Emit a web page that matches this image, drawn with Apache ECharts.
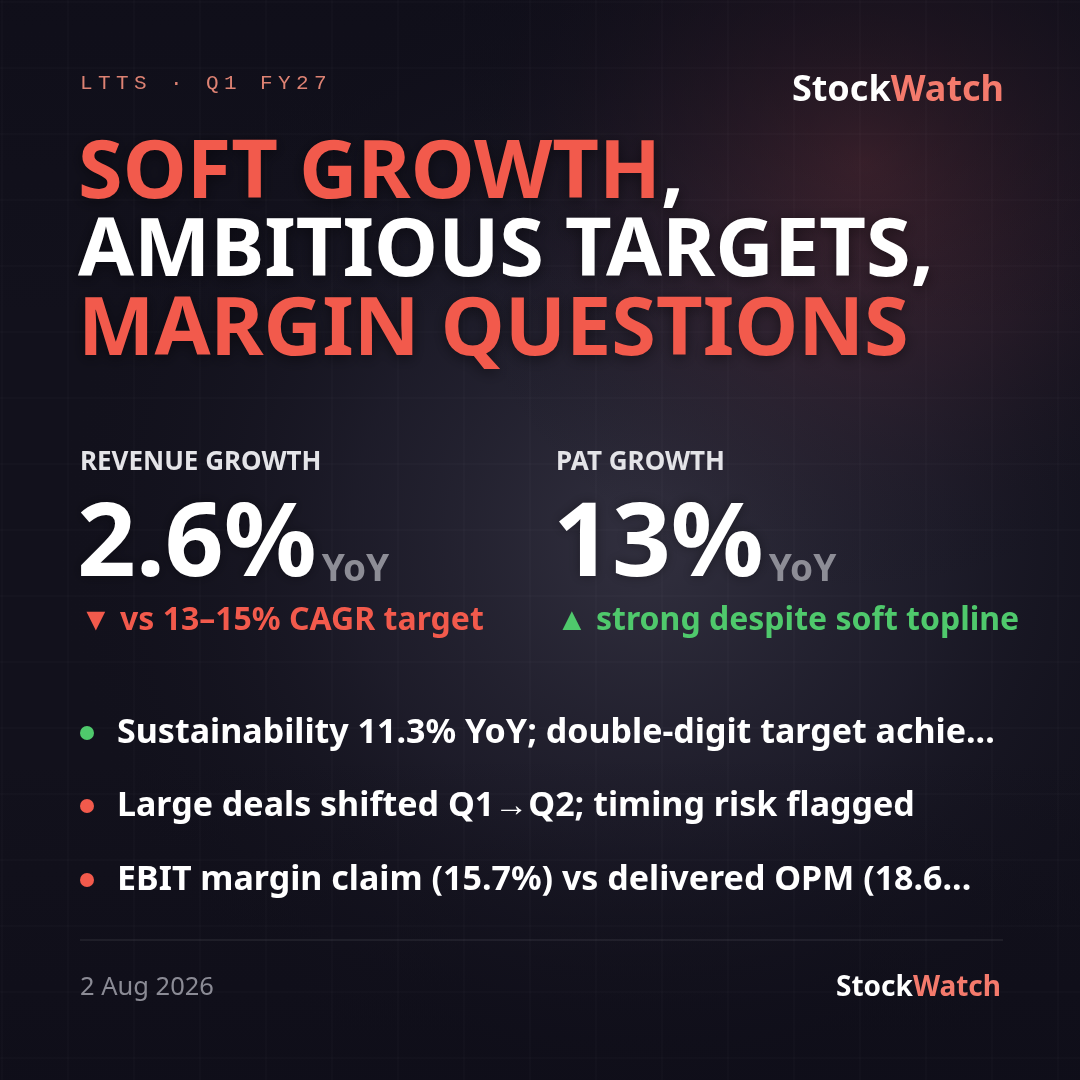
<!DOCTYPE html>
<html>
<head>
<meta charset="utf-8">
<script src="https://cdn.jsdelivr.net/npm/echarts@6/dist/echarts.min.js"></script>
<style>
html,body{margin:0;padding:0;background:#12111c;}
#c{width:1080px;height:1080px;}
</style>
</head>
<body>
<div id="c"></div>
<script>
// ---- content data ----
const tagLine = "LTTS · Q1 FY27";
const brandParts = ["Stock", "Watch"];
const headlineLines = ["SOFT GROWTH", "AMBITIOUS TARGETS,", "MARGIN QUESTIONS"];
const headlineSuffix = [",", "", ""];
const headlineColors = ["#f25a4c", "#ffffff", "#f25a4c"];
const kpiLabels = ["REVENUE GROWTH", "PAT GROWTH"];
const kpiValues = ["2.6%", "13%"];
const kpiUnits = ["YoY", "YoY"];
const kpiNotes = ["▼ vs 13–15% CAGR target", "▲ strong despite soft topline"];
const kpiNoteColors = ["#f25a4c", "#4fc96c"];
const bullets = [
  "Sustainability 11.3% YoY; double-digit target achie...",
  "Large deals shifted Q1→Q2; timing risk flagged",
  "EBIT margin claim (15.7%) vs delivered OPM (18.6..."
];
const bulletColors = ["#4fc96c", "#f25a4c", "#f25a4c"];
const footerDate = "2 Aug 2026";

// ---- layout ----
const FONT = '"Noto Sans", "Open Sans", sans-serif';
const chart = echarts.init(document.getElementById('c'), null, {renderer: 'canvas'});
const mctx = document.createElement('canvas').getContext('2d');
function measure(text, size, weight) {
  mctx.font = weight + ' ' + size + 'px ' + FONT;
  return mctx.measureText(text).width;
}

const els = [];
// background base
els.push({type: 'rect', shape: {x: 0, y: 0, width: 1080, height: 1080}, style: {fill: '#12111c'}, z: 0});
// soft lighter haze in the middle
els.push({type: 'rect', shape: {x: 0, y: 0, width: 1080, height: 1080}, z: 1,
  style: {fill: new echarts.graphic.RadialGradient(0.6, 0.5, 0.55, [
    {offset: 0, color: 'rgba(58,56,72,0.8)'},
    {offset: 0.5, color: 'rgba(40,38,54,0.5)'},
    {offset: 1, color: 'rgba(18,17,28,0)'}
  ])}});
// red glow top right
els.push({type: 'rect', shape: {x: 0, y: 0, width: 1080, height: 1080}, z: 2,
  style: {fill: new echarts.graphic.RadialGradient(0.8, 0.15, 0.4, [
    {offset: 0, color: 'rgba(110,52,62,0.55)'},
    {offset: 0.5, color: 'rgba(70,38,52,0.3)'},
    {offset: 1, color: 'rgba(18,17,28,0)'}
  ])}});
// darker top/bottom
els.push({type: 'rect', shape: {x: 0, y: 0, width: 1080, height: 1080}, z: 3,
  style: {fill: new echarts.graphic.LinearGradient(0, 0, 0, 1, [
    {offset: 0, color: 'rgba(14,13,24,0.55)'},
    {offset: 0.3, color: 'rgba(14,13,24,0)'},
    {offset: 0.7, color: 'rgba(14,13,24,0)'},
    {offset: 1, color: 'rgba(14,13,24,0.7)'}
  ])}});
// faint grid
for (let p = 2; p < 1080; p += 66) {
  els.push({type: 'line', z: 4, shape: {x1: p, y1: 0, x2: p, y2: 1080}, style: {stroke: 'rgba(255,255,255,0.03)', lineWidth: 1}});
  els.push({type: 'line', z: 4, shape: {x1: 0, y1: p, x2: 1080, y2: p}, style: {stroke: 'rgba(255,255,255,0.03)', lineWidth: 1}});
}

// tag line (monospace, letter spaced)
for (let i = 0; i < tagLine.length; i++) {
  els.push({type: 'text', z: 10, style: {x: 80 + i * 18, y: 83, text: tagLine[i], fill: '#dd8273',
    font: 'normal 21px "Liberation Mono", "DejaVu Sans Mono", monospace', align: 'left', verticalAlign: 'middle'}});
}
// brand top right
els.push({type: 'text', z: 10, style: {x: 1004, y: 91, text: '{a|' + brandParts[0] + '}{b|' + brandParts[1] + '}',
  align: 'right', verticalAlign: 'middle',
  rich: {a: {fill: '#ffffff', font: 'bold 36px ' + FONT}, b: {fill: '#f47a6c', font: 'bold 36px ' + FONT}}}});

// headline
const HF = 81;
const hlY = [175, 253, 332];
headlineLines.forEach((t, i) => {
  els.push({type: 'text', z: 10, style: {x: 78, y: hlY[i], text: t, fill: headlineColors[i],
    font: 'bold ' + HF + 'px ' + FONT, align: 'left', verticalAlign: 'middle',
    textShadowColor: 'rgba(0,0,0,0.45)', textShadowBlur: 14, textShadowOffsetY: 3}});
  if (headlineSuffix[i]) {
    const w = measure(t, HF, 'bold');
    els.push({type: 'text', z: 10, style: {x: 78 + w, y: hlY[i], text: headlineSuffix[i], fill: '#ffffff',
      font: 'bold ' + HF + 'px ' + FONT, align: 'left', verticalAlign: 'middle',
      textShadowColor: 'rgba(0,0,0,0.45)', textShadowBlur: 14, textShadowOffsetY: 3}});
  }
});

// KPIs
const kpiX = [80, 556];
kpiLabels.forEach((lab, i) => {
  const x = kpiX[i];
  els.push({type: 'text', z: 10, style: {x: x, y: 463, text: lab, fill: '#e4e4e8',
    font: 'bold 26px ' + FONT, align: 'left', verticalAlign: 'middle'}});
  els.push({type: 'text', z: 10, style: {x: x - 3, y: 547, text: kpiValues[i], fill: '#ffffff',
    font: 'bold 103px ' + FONT, align: 'left', verticalAlign: 'middle',
    textShadowColor: 'rgba(0,0,0,0.35)', textShadowBlur: 12}});
  const w = measure(kpiValues[i], 103, 'bold');
  els.push({type: 'text', z: 10, style: {x: x - 3 + w + 5, y: 570, text: kpiUnits[i], fill: '#8d8d96',
    font: 'bold 37px ' + FONT, align: 'left', verticalAlign: 'middle'}});
  els.push({type: 'text', z: 10, style: {x: x, y: 621, text: kpiNotes[i], fill: kpiNoteColors[i],
    font: 'bold 32px ' + FONT, align: 'left', verticalAlign: 'middle'}});
});

// bullets
const bulletY = [733, 806, 880];
bullets.forEach((b, i) => {
  els.push({type: 'circle', z: 10, shape: {cx: 87, cy: bulletY[i], r: 7}, style: {fill: bulletColors[i]}});
  els.push({type: 'text', z: 10, style: {x: 117, y: bulletY[i], text: b, fill: '#ffffff',
    font: 'bold 34px ' + FONT, align: 'left', verticalAlign: 'middle'}});
});

// separator
els.push({type: 'line', z: 10, shape: {x1: 80, y1: 940, x2: 1003, y2: 940}, style: {stroke: 'rgba(255,255,255,0.13)', lineWidth: 1}});

// footer
els.push({type: 'text', z: 10, style: {x: 80, y: 988, text: footerDate, fill: '#8b8b95',
  font: 'normal 25.5px ' + FONT, align: 'left', verticalAlign: 'middle'}});
els.push({type: 'text', z: 10, style: {x: 1001, y: 988, text: '{a|' + brandParts[0] + '}{b|' + brandParts[1] + '}',
  align: 'right', verticalAlign: 'middle',
  rich: {a: {fill: '#ffffff', font: 'bold 28px ' + FONT}, b: {fill: '#f47a6c', font: 'bold 28px ' + FONT}}}});

chart.setOption({
  backgroundColor: '#12111c',
  animation: false,
  graphic: {elements: els}
});
</script>
</body>
</html>
